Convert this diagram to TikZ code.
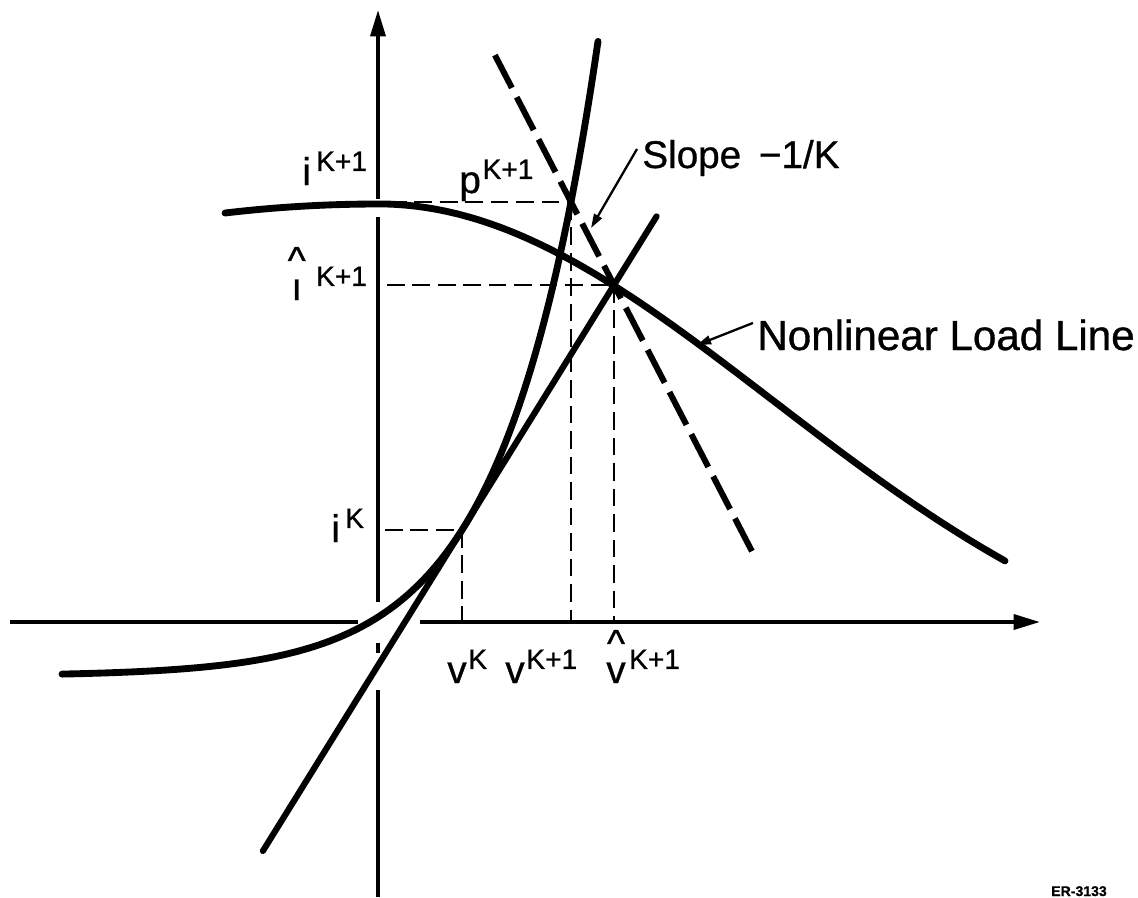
\documentclass[tikz,border=0pt]{standalone}
\usepackage{fontspec}
\setmainfont{Liberation Sans}[FakeBold=0.8]
\usetikzlibrary{arrows.meta,calc}
\newcommand{\hatover}[1]{\ooalign{\hidewidth\raisebox{15pt}{\textasciicircum}\hidewidth\cr#1\cr}}
\newcommand{\supr}[1]{\raisebox{8pt}{\fontsize{16}{16}\selectfont #1}}
\begin{document}
\begin{tikzpicture}[x=0.02cm,y=-0.02cm,
  curve/.style={line width=3.9pt, line cap=round},
  tangentline/.style={line width=3.5pt, line cap=round},
  axisline/.style={line width=2.1pt},
  axisarrow/.style={line width=2.1pt, -{Triangle[length=15pt,width=8.5pt]}},
  guide/.style={line width=1.6pt, dash pattern=on 10pt off 4.5pt},
  slopeline/.style={line width=3.4pt, dash pattern=on 21pt off 6pt},
  leader/.style={line width=1.3pt, -{Triangle[length=8pt,width=5pt]}},
  lbl/.style={font=\fontsize{22}{26}\selectfont, inner sep=0pt, anchor=base west},
]
\useasboundingbox (0,0) rectangle (1138,897);

% axes
\coordinate (ytip) at (378,10);
\coordinate (ybot) at (378,602);
\coordinate (xtip) at (1040,622);
\coordinate (xleft) at (10,622);
\draw[axisarrow] (378,199) -- (ytip);
\draw[axisline] (ybot) -- (378,217);
\draw[axisline] (378,643) -- (378,653);
\draw[axisline] (378,690) -- (378,897);
\draw[axisline] (xleft) -- (358,622);
\draw[axisarrow] (420,622) -- (xtip);

% key points
\coordinate (Pk) at (462,530);
\coordinate (Pn) at (571,202);
\coordinate (Ps) at (614,285);

% dashed guides
\draw[guide] (389,202) -- (Pn);
\draw[guide] (Pn) -- (Pn |- xtip);
\draw[guide] (387,285) -- (Ps);
\draw[guide] (Ps) -- (Ps |- xtip);
\draw[guide] (385,530) -- (Pk);
\draw[guide] (Pk) -- (Pk |- xtip);

% nonlinear load line
\draw[curve] plot[domain=225:378, samples=30] (\x, {204+9*((378-\x)/153)^2})
  -- plot[domain=378:1005, samples=120] (\x, {700-496*exp(-((\x-378)/556)^2)});

% device characteristic
\draw[curve] plot[domain=62:598, samples=140] (\x, {676-146*exp((\x-462)/92.55)});

% tangent line
\draw[tangentline] ($(Pk)!-1.31!(Ps)$) -- ($(Ps)!-0.28!(Pk)$);

% slope -1/K dashed line
\draw[slopeline] ($(Pn)!-1.77!(Ps)$) -- ($(Pn)!4.23!(Ps)$);

% labels
\node[lbl] (iK1) at (302,185) {i\kern3pt\supr{K+1}};
\node[lbl] (ihK1) at (291,300) {\hatover{\i}\kern8pt\supr{K+1}};
\node[lbl] (iK) at (331,542) {i\kern3pt\supr{K}};
\node[lbl] (pK1) at (459,193) {p\kern1pt\supr{K+1}};
\node[lbl] (vK) at (447,683) {v\kern1pt\supr{K}};
\node[lbl] (vK1) at (505,683) {v\kern1pt\supr{K+1}};
\node[lbl] (vhK1) at (606,683) {\hatover{v}\kern2pt\supr{K+1}};

\node[lbl] (slope) at (642,168) {Slope \kern4pt−1/K};
\node[lbl, font=\fontsize{24}{28}\selectfont] (load) at (757,350) {Nonlinear Load Line};
\coordinate (slopetip) at (591,228);
\coordinate (loadtip) at (697,345);
\draw[leader] (slope.west) ++(-5,-9) coordinate (sl0) -- (slopetip);
\draw[leader] (load.west) ++(-4,-12) coordinate (ld0) -- (loadtip);

\node[font=\fontsize{8}{9}\selectfont\bfseries, inner sep=0pt, anchor=base] (code) at (1079,896) {ER-3133};
\end{tikzpicture}
\end{document}
